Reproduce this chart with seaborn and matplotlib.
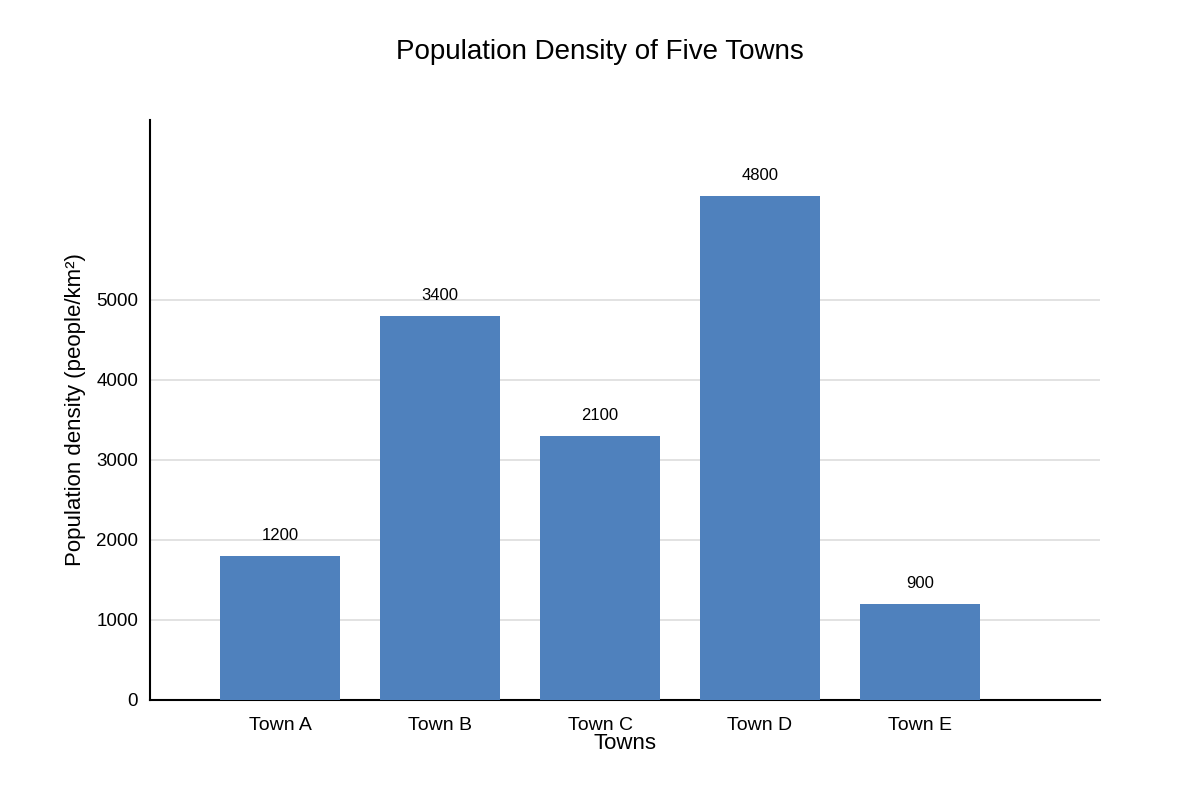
import matplotlib
matplotlib.use("Agg")
import matplotlib.pyplot as plt
import seaborn as sns
import pandas as pd

# --------------------------------------------------
# Data
# --------------------------------------------------
towns = ["Town A", "Town B", "Town C", "Town D", "Town E"]
bar_heights = [1800, 4800, 3300, 6300, 1200]   # drawn bar heights
bar_labels = ["1200", "3400", "2100", "4800", "900"]  # text printed above bars
y_ticks = [0, 1000, 2000, 3000, 4000, 5000]

df = pd.DataFrame({"town": towns, "density": bar_heights})

# --------------------------------------------------
# Plot
# --------------------------------------------------
sns.set_style("white")
plt.rcParams["font.family"] = ["Liberation Sans", "DejaVu Sans"]
plt.rcParams["text.color"] = "black"
plt.rcParams["axes.labelcolor"] = "black"

fig = plt.figure(figsize=(12, 8), dpi=100)
ax = fig.add_axes([0.125, 0.125, 0.79167, 0.725])

sns.barplot(data=df, x="town", y="density", color="#4f81bd",
            saturation=1, width=0.75, edgecolor="none", linewidth=0,
            ax=ax, zorder=3)

ax.set_xlim(-0.8125, 5.125)
ax.set_ylim(0, 7250)
ax.set_yticks(y_ticks)
ax.yaxis.grid(True, color="#dddddd", linewidth=1.2, zorder=0)
ax.set_axisbelow(True)

for spine in ["top", "right"]:
    ax.spines[spine].set_visible(False)
for spine in ["left", "bottom"]:
    ax.spines[spine].set_color("black")
    ax.spines[spine].set_linewidth(1.5)

ax.tick_params(axis="both", length=0, labelsize=14, colors="black")
ax.tick_params(axis="y", labelsize=13.5, pad=8.5)
ax.tick_params(axis="x", pad=12.5)

for i, (h, lab) in enumerate(zip(bar_heights, bar_labels)):
    ax.annotate(lab, (i, h), xytext=(0, 9), textcoords="offset points",
                ha="center", va="bottom", fontsize=12, color="black")

ax.set_xlabel("Towns", fontsize=16)
ax.xaxis.set_label_coords(0.5, -0.057)
ax.set_ylabel("Population density (people/km²)", fontsize=16)
ax.yaxis.set_label_coords(-0.067, 0.5)

fig.suptitle("Population Density of Five Towns", fontsize=20, y=0.951,
             color="black")

fig.savefig("out.png", dpi=100)
